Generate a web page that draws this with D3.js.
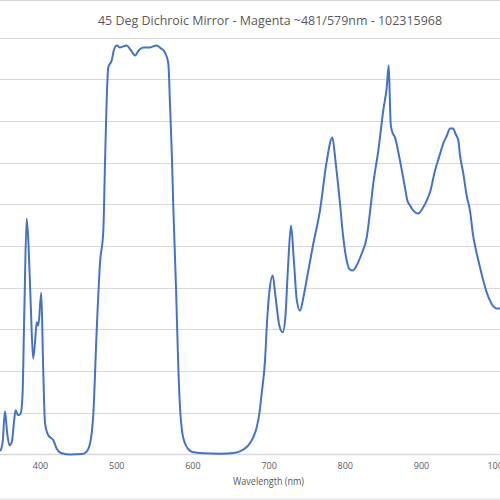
<!DOCTYPE html>
<html><head><meta charset="utf-8">
<script src="https://cdn.jsdelivr.net/npm/d3@7"></script>
<style>html,body{margin:0;padding:0;background:#fff;}svg{display:block;}</style>
</head><body>
<script>
const title = "45 Deg Dichroic Mirror - Magenta ~481/579nm - 102315968";
const xAxisTitle = "Wavelength (nm)";
const xTicks = [400, 500, 600, 700, 800, 900, 1000];
const yTicks = [0, 10, 20, 30, 40, 50, 60, 70, 80, 90, 100];
const wavelength = [348,351,354,357,360,363,366,368,371,374.5,377,379.5,382.5,385,388,391,393.5,395.7,397.8,401.7,404,406.6,410.9,417.5,421.9,428.5,440,455,460,465.6,470,474.4,478.7,483.1,485.3,487.5,489.6,494.1,497,500.7,505,513.8,519,524.7,530,535.6,544.4,553.1,558,564,568.4,570.6,573,575,578.5,581.5,584,586.5,590,595,600,614,636,658,667,673.4,679,684.4,688,690.9,695.3,698,701,705.4,709,714,718.5,722,725.5,729.4,733,737,741.2,746,752,758.7,767.4,776,783.6,788,793.7,798,802.5,806,810.4,816,822.2,828.7,833,837.4,844,850.5,855,857.6,859,860.2,862,865.9,872.4,879,882,885.6,889.9,896.4,902,907.5,912,918.4,924,929.3,934,938.1,942.4,945,949,951,955.5,960,964.3,968,973.1,976,981.7,986,990.5,995,999.3,1004];
const transmission = [0.8,3,10.3,5,2.2,3,8,10.6,9.4,9.8,14,35,56.6,50,35,23,27,31.7,30.9,38.8,22,7.4,4.6,3.4,1.4,0.3,0,0.1,0.5,2.6,9.8,29.7,45.8,53.7,69.8,85,92.8,94.5,97,98.1,97.6,98.1,97,95.7,97,97.6,97.6,98.1,97.5,96.4,93.8,84,72,59,40,21,10.5,5.5,2.8,1.2,0.6,0.3,0.2,0.5,1.2,2.2,3.8,6.5,10,14.6,22.5,32,39,42.9,38,31,29.3,33,45,54.9,47,37,34.5,38,44,50.6,58.5,70,76.0,70,60.2,52,46.5,44.5,44.1,45.5,48.2,52.0,58,65.0,72.9,82.5,88,93.3,86,79.4,77.5,76.0,70.5,64.0,61,59.7,58.5,57.8,59,60.9,63,68.1,71.5,74.6,76.5,78.2,78.2,77,75.3,72,67.4,62,58.5,53,48.2,46,41.7,39,36.9,35.5,35.0,35.0];

const W = 500, H = 500;
const svg = d3.select("body").append("svg").attr("width", W).attr("height", H);
svg.append("rect").attr("width", W).attr("height", H).attr("fill", "#fff");
// chart border (cropped)
svg.append("rect").attr("x", -2).attr("y", 0.5).attr("width", W + 4).attr("height", H - 1.5)
  .attr("fill", "none").attr("stroke", "#d9d9d9").attr("stroke-width", 1);

const x = d3.scaleLinear().domain([400, 1000]).range([40, 497.2]);
const y = d3.scaleLinear().domain([0, 100]).range([454.5, 37.5]);
const plotLeft = -5, plotRight = 505;

// gridlines
svg.append("g").selectAll("line").data(yTicks.slice(1)).join("line")
  .attr("x1", plotLeft).attr("x2", plotRight)
  .attr("y1", d => Math.round(y(d)) + 0.5).attr("y2", d => Math.round(y(d)) + 0.5)
  .attr("stroke", "#d9d9d9").attr("stroke-width", 1);

// x axis
const xAxis = d3.axisBottom(x).tickValues(xTicks).tickSize(0).tickPadding(8).tickFormat(d3.format("d"));
const gx = svg.append("g").attr("transform", `translate(0,${y(0)})`).call(xAxis);
gx.select(".domain").remove();
gx.append("line").attr("x1", plotLeft).attr("x2", plotRight).attr("y1", 0).attr("y2", 0)
  .attr("stroke", "#d9d9d9").attr("stroke-width", 1.3);
gx.selectAll("text").attr("fill", "#595959").attr("font-family", "'Open Sans', sans-serif").attr("font-size", 9);

// line
const data = wavelength.map((w, i) => [w, transmission[i]]);
const line = d3.line().x(d => x(d[0])).y(d => y(d[1])).curve(d3.curveMonotoneX);
svg.append("path").datum(data).attr("d", line).attr("fill", "none")
  .attr("stroke", "#4472C4").attr("stroke-width", 2).attr("stroke-linejoin", "round");

// titles
svg.append("text").attr("x", 270).attr("y", 25).attr("text-anchor", "middle")
  .attr("font-family", "'Open Sans', sans-serif").attr("font-size", 12.5).attr("fill", "#595959")
  .attr("textLength", 344).attr("lengthAdjust", "spacingAndGlyphs").text(title);
svg.append("text").attr("x", 268.5).attr("y", 485).attr("text-anchor", "middle")
  .attr("font-family", "'Open Sans', sans-serif").attr("font-size", 10).attr("fill", "#595959")
  .attr("textLength", 71).attr("lengthAdjust", "spacingAndGlyphs").text(xAxisTitle);
</script>
</body></html>
